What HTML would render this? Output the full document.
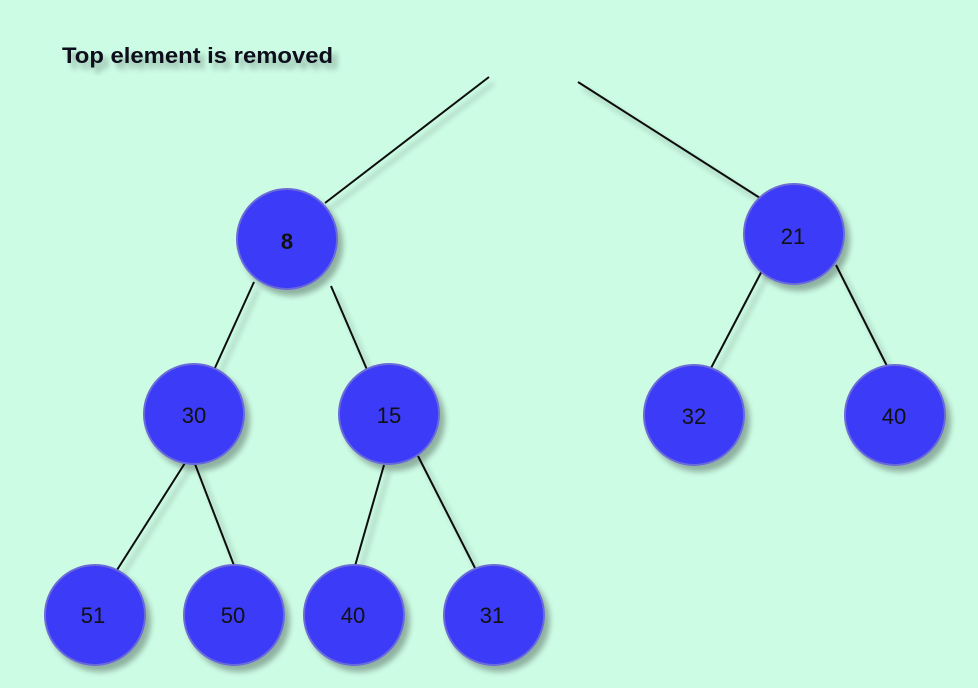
<!DOCTYPE html>
<html><head><meta charset="utf-8"><style>
html,body{margin:0;padding:0;background:#ccfce4;}
svg{display:block}
</style></head><body>
<svg width="978" height="688" viewBox="0 0 978 688" xmlns="http://www.w3.org/2000/svg">
<defs>
<filter id="sh" x="-30%" y="-30%" width="160%" height="160%">
<feGaussianBlur in="SourceAlpha" stdDeviation="3"/>
<feOffset dx="5" dy="6" result="b"/>
<feComponentTransfer><feFuncA type="linear" slope="0.3"/></feComponentTransfer>
<feMerge><feMergeNode/><feMergeNode in="SourceGraphic"/></feMerge>
</filter>
</defs>
<rect width="978" height="688" fill="#ccfce4"/>
<text x="62" y="63" font-family="Liberation Sans, sans-serif" font-size="22" font-weight="bold" fill="#0a0f1e" textLength="271" lengthAdjust="spacingAndGlyphs" filter="url(#sh)">Top element is removed</text>
<g stroke="#111" stroke-width="2" fill="none" filter="url(#sh)">
<line x1="489" y1="77" x2="325" y2="203"/>
<line x1="578" y1="82" x2="760" y2="198"/>
<line x1="254" y1="282" x2="214" y2="370"/>
<line x1="331" y1="286" x2="368" y2="372"/>
<line x1="765" y1="265" x2="710" y2="370"/>
<line x1="836" y1="265" x2="888" y2="368"/>
<line x1="185" y1="463" x2="117" y2="570"/>
<line x1="195" y1="464" x2="235" y2="568"/>
<line x1="384" y1="465" x2="355" y2="566"/>
<line x1="418" y1="456" x2="475" y2="568"/>
</g>
<g fill="#3a3af8" stroke="#6a6ad8" stroke-width="2" filter="url(#sh)">
<circle cx="287" cy="239" r="50"/>
<circle cx="794" cy="234" r="50"/>
<circle cx="194" cy="414" r="50"/>
<circle cx="389" cy="414" r="50"/>
<circle cx="694" cy="415" r="50"/>
<circle cx="895" cy="415" r="50"/>
<circle cx="95" cy="615" r="50"/>
<circle cx="234" cy="615" r="50"/>
<circle cx="354" cy="615" r="50"/>
<circle cx="494" cy="615" r="50"/>
</g>
<g font-family="Liberation Sans, sans-serif" font-size="22" fill="#111" text-anchor="middle">
<text x="287" y="249" font-weight="bold">8</text>
<text x="793" y="244">21</text>
<text x="194" y="423">30</text>
<text x="389" y="423">15</text>
<text x="694" y="424">32</text>
<text x="894" y="424">40</text>
<text x="93" y="623">51</text>
<text x="233" y="623">50</text>
<text x="353" y="623">40</text>
<text x="492" y="623">31</text>
</g>
</svg>
</body></html>
